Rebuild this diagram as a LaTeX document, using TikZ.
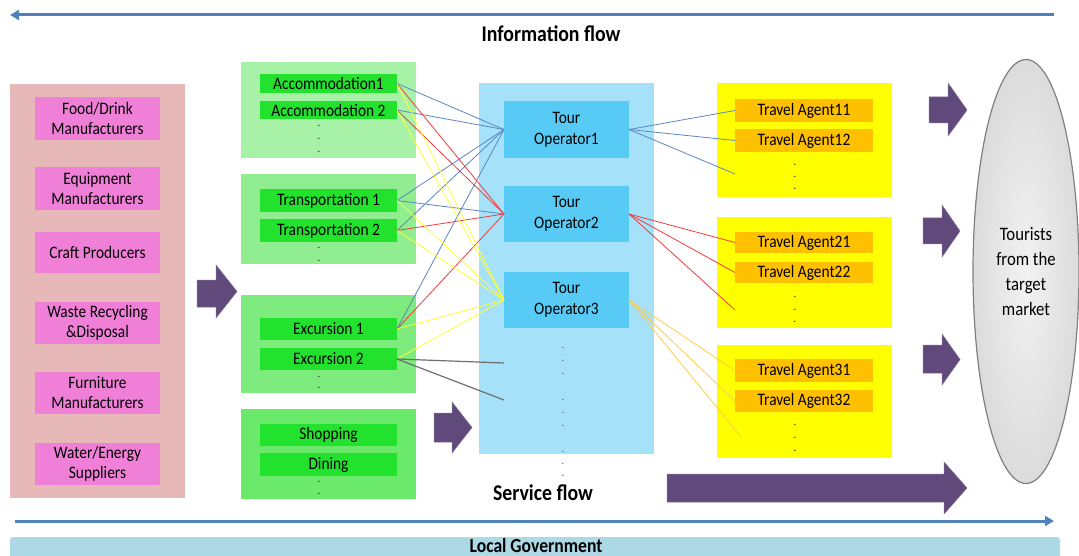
\documentclass[tikz,border=0pt]{standalone}
\usepackage{fontspec}
\setmainfont{Carlito}[FakeStretch=0.88]
\usetikzlibrary{arrows.meta,shapes.geometric}
\definecolor{pinkbg}{HTML}{E6B9B8}
\definecolor{pinkitem}{HTML}{F07FD8}
\definecolor{gA}{HTML}{A8F2A8}
\definecolor{gT}{HTML}{90EE90}
\definecolor{gE}{HTML}{7EEB7E}
\definecolor{gS}{HTML}{6AE96A}
\definecolor{gitem}{HTML}{22E22E}
\definecolor{bpanel}{HTML}{A6E1FA}
\definecolor{bitem}{HTML}{57CBF5}
\definecolor{ypanel}{HTML}{FFFF00}
\definecolor{yitem}{HTML}{FFC000}
\definecolor{govblue}{HTML}{ADD8E6}
\definecolor{flowblue}{HTML}{4F81BD}
\definecolor{purp}{HTML}{604A7B}
\definecolor{cblue}{HTML}{5B86C0}
\definecolor{cred}{HTML}{F03C3C}
\definecolor{cyel}{HTML}{FFFF33}
\definecolor{cgray}{HTML}{6E6E6E}
\definecolor{corange}{HTML}{FFCC44}
\newcommand\bx[7]{\node[#6, anchor=north west, minimum width=#4, minimum height=#5] (#1) at (#2,#3) {#7};}
\begin{document}
\begin{tikzpicture}[x=1pt,y=-1pt,
  every node/.style={inner sep=0pt, outer sep=0pt},
  lbl/.style={font=\fontsize{17.5}{20}\selectfont, align=center},
  tolbl/.style={font=\fontsize{17.5}{21}\selectfont, align=center},
  big/.style={font=\bfseries\fontsize{22.5}{26}\selectfont},
  dots/.style={font=\bfseries\fontsize{9}{#1}\selectfont, align=center},
  flowline/.style={draw=flowblue, line width=3pt, -{Triangle[length=9pt,width=10pt]}},
  conn/.style={line width=0.8pt},
  blockarrow/.style={fill=purp, draw=purp!80!white, line width=0.5pt}
]
\useasboundingbox (0,0) rectangle (1079,556);

% information flow arrow
\coordinate (infoR) at (1054,15);
\coordinate (infoL) at (10,15);
\draw[flowline] (infoR) -- (infoL);
\node[big] (info) at (551,34) {Information flow};

% suppliers
\bx{supply}{10}{84}{175}{414}{fill=pinkbg}{}
\bx{food}{35}{97}{125}{43}{fill=pinkitem,lbl}{Food/Drink\\Manufacturers}
\bx{equip}{35}{167}{125}{43}{fill=pinkitem,lbl}{Equipment\\Manufacturers}
\bx{craft}{35}{232}{125}{41}{fill=pinkitem,lbl}{Craft Producers}
\bx{waste}{35}{302}{125}{42}{fill=pinkitem,lbl}{Waste Recycling\\\&Disposal}
\bx{furn}{35}{372}{125}{42}{fill=pinkitem,lbl}{Furniture\\Manufacturers}
\bx{water}{35}{443}{125}{42}{fill=pinkitem,lbl}{Water/Energy\\Suppliers}

% block arrow 1
\fill[blockarrow] (197,280) -- (216,280) -- (216,265) -- (237,291.5) -- (216,318) -- (216,307) -- (197,307) -- cycle;

% green groups
\bx{gAcc}{241}{62}{175}{96}{fill=gA}{}
\bx{gTrans}{241}{174}{175}{90}{fill=gT}{}
\bx{gExc}{241}{295}{175}{98}{fill=gE}{}
\bx{gShop}{241}{409}{175}{90}{fill=gS}{}
\bx{acc1}{260}{74}{137}{19}{fill=gitem,lbl}{Accommodation1}
\bx{acc2}{260}{101}{137}{18}{fill=gitem,lbl}{Accommodation 2}
\bx{trans1}{260}{189}{137}{23}{fill=gitem,lbl}{Transportation 1}
\bx{trans2}{260}{219}{137}{23}{fill=gitem,lbl}{Transportation 2}
\bx{exc1}{260}{318}{137}{22}{fill=gitem,lbl}{Excursion 1}
\bx{exc2}{260}{348}{137}{22}{fill=gitem,lbl}{Excursion 2}
\bx{shop}{260}{424}{137}{22}{fill=gitem,lbl}{Shopping}
\bx{dining}{260}{453}{137}{23}{fill=gitem,lbl}{Dining}
\node[dots=13] (adots) at (319,138.5) {.\\.\\.};
\node[dots=13] (tdots) at (319,254.5) {.\\.};
\node[dots=11] (edots) at (319,382.5) {.\\.};
\node[dots=12] (sdots) at (319,488) {.\\.};

% block arrow 2
\fill[blockarrow] (434,413) -- (452,413) -- (452,402) -- (472,427.5) -- (452,453) -- (452,442) -- (434,442) -- cycle;

% tour operators
\bx{bpan}{479}{83}{175}{371}{fill=bpanel}{}
\bx{to1}{504}{101}{125}{57}{fill=bitem,tolbl}{Tour\\Operator1}
\bx{to2}{504}{186}{125}{56}{fill=bitem,tolbl}{Tour\\Operator2}
\bx{to3}{504}{272}{125}{56}{fill=bitem,tolbl}{Tour\\Operator3}
\node[dots=13, text=black!70] (bdots1) at (563,361) {.\\.\\.};
\node[dots=13, text=black!70] (bdots2) at (563,413) {.\\.\\.};
\node[dots=12, text=black!70] (bdots3) at (563,464) {.\\.\\.};
\node[big] (service) at (543,493) {Service flow};

% travel agents
\bx{ypan1}{717}{83}{175}{114}{fill=ypanel}{}
\bx{ypan2}{717}{217}{175}{111}{fill=ypanel}{}
\bx{ypan3}{717}{345}{175}{113}{fill=ypanel}{}
\bx{ta11}{735}{99}{138}{23}{fill=yitem,lbl}{Travel Agent11}
\bx{ta12}{735}{129}{138}{23}{fill=yitem,lbl}{Travel Agent12}
\bx{ta21}{735}{232}{138}{21}{fill=yitem,lbl}{Travel Agent21}
\bx{ta22}{735}{262}{138}{21}{fill=yitem,lbl}{Travel Agent22}
\bx{ta31}{735}{359}{138}{23}{fill=yitem,lbl}{Travel Agent31}
\bx{ta32}{735}{390}{138}{22}{fill=yitem,lbl}{Travel Agent32}
\node[dots=12] (y1dots) at (795,177) {.\\.\\.};
\node[dots=12.5] (y2dots) at (795,309.5) {.\\.\\.};
\node[dots=13] (y3dots) at (795,438) {.\\.\\.};

% connectors left
\begin{scope}[conn]
\foreach \s in {acc1,acc2,trans1,trans2,exc1} \draw[cblue] (\s.east) -- (to1.west);
\draw[cred] (acc1.east) -- (to2.west);
\draw[cred] (acc2.east) -- (to2.west);
\draw[cblue] (trans1.east) -- (to2.west);
\draw[cred] (trans2.east) -- (to2.west);
\draw[cred] (exc1.east) -- (to2.west);
\foreach \s in {acc1,acc2,trans1,trans2,exc1,exc2} \draw[cyel] (\s.east) -- (to3.west);
\coordinate (g1) at (504,363);
\coordinate (g2) at (504,400);
\draw[cgray, line width=1.2pt] (exc2.east) -- (g1);
\draw[cgray, line width=1.2pt] (exc2.east) -- (g2);
% right
\coordinate (f1) at (735,174);
\coordinate (f2) at (735,310);
\coordinate (f3) at (742,438);
\draw[cblue] (to1.east) -- (ta11.west);
\draw[cblue] (to1.east) -- (ta12.west);
\draw[cblue] (to1.east) -- (f1);
\draw[cred] (to2.east) -- (ta21.west);
\draw[cred] (to2.east) -- (ta22.west);
\draw[cred] (to2.east) -- (f2);
\draw[corange] (to3.east) -- (ta31.west);
\draw[corange] (to3.east) -- (ta32.west);
\draw[corange] (to3.east) -- (f3);
\end{scope}

% right block arrows
\fill[blockarrow] (929,97) -- (948,97) -- (948,83) -- (967,110) -- (948,136) -- (948,123) -- (929,123) -- cycle;
\fill[blockarrow] (923,218) -- (942,218) -- (942,205) -- (960,231) -- (942,257) -- (942,244) -- (923,244) -- cycle;
\fill[blockarrow] (923,345) -- (942,345) -- (942,334) -- (960,359.5) -- (942,385) -- (942,373) -- (923,373) -- cycle;
\fill[blockarrow] (667,474) -- (944,474) -- (944,462) -- (967,488) -- (944,514) -- (944,502) -- (667,502) -- cycle;

% tourists
\node[ellipse, minimum width=106, minimum height=424, draw=black!50, line width=1.2pt,
  inner color=black!5, outer color=black!14, font=\fontsize{19}{25}\selectfont, align=center]
  (tourists) at (1026,271.5) {Tourists\\from the\\target\\market};

% service flow arrow
\coordinate (svcL) at (15,521);
\coordinate (svcR) at (1054,521);
\draw[flowline] (svcL) -- (svcR);

% local government
\bx{gov}{10}{537}{1050}{22}{fill=govblue, rounded corners=3pt}{}
\node[font=\bfseries\fontsize{20}{22}\selectfont] (govtext) at (536,546) {Local Government};
\end{tikzpicture}
\end{document}
